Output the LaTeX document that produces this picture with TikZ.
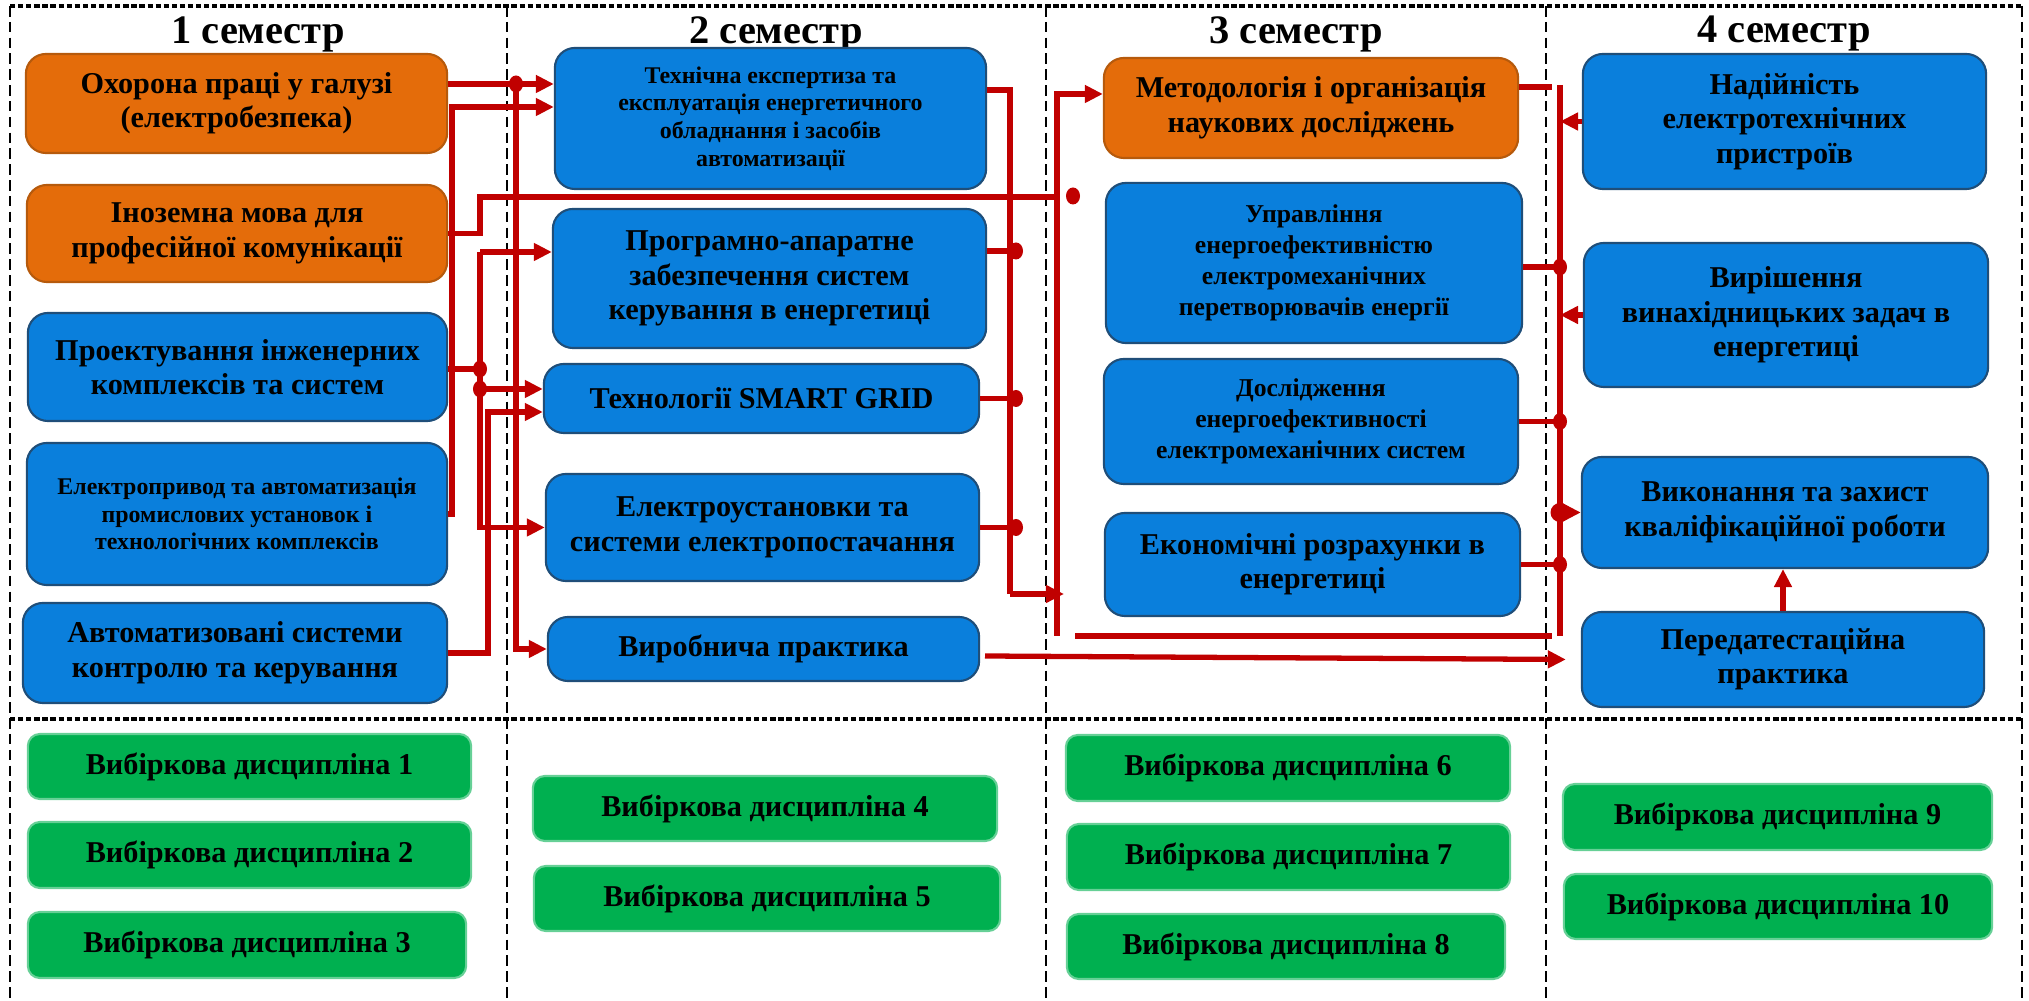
\documentclass[tikz,border=0pt]{standalone}
\usepackage{fontspec}
\setmainfont{Liberation Serif}
\usetikzlibrary{arrows.meta,calc,positioning}
\definecolor{boxorange}{HTML}{E46C0A}
\definecolor{boxorangeline}{HTML}{B65A0C}
\definecolor{boxblue}{HTML}{0A7FDC}
\definecolor{boxblueline}{HTML}{1F4E79}
\definecolor{boxgreen}{HTML}{00B050}
\definecolor{linkred}{HTML}{C00000}
\tikzset{
  box/.style={rounded corners=2mm, line width=0.6pt, align=center, inner sep=1pt,
    font=\bfseries\fontsize{8.6}{9.8}\selectfont},
  orangebox/.style={box, fill=boxorange, draw=boxorangeline},
  bluebox/.style={box, fill=boxblue, draw=boxblueline},
  greenbox/.style={box, rounded corners=1.2mm, fill=boxgreen, draw=boxgreen!60!white},
  smalltext/.style={font=\bfseries\fontsize{6.8}{7.9}\selectfont},
  midtext/.style={font=\bfseries\fontsize{7.3}{8.8}\selectfont},
  link/.style={linkred, line width=1.5pt},
  arrowlink/.style={link, -{Triangle[length=1.8mm,width=1.7mm]}},
  framethin/.style={dash pattern=on 3pt off 1.5pt, line width=0.5pt},
  framethick/.style={dash pattern=on 1.5pt off 0.8pt, line width=0.9pt},
  semester/.style={font=\bfseries\fontsize{11.5}{13}\selectfont},
  joint/.style={x radius=0.07cm, y radius=0.085cm},
}

\begin{document}
\begin{tikzpicture}[x=0.01cm,y=-0.01cm]
\useasboundingbox (0,0) rectangle (2029,1001);

% Drawing frame and semester columns
\draw[framethin] (10,6) -- (10,1001);%
\draw[framethin] (2022,6) -- (2022,1001);%
\foreach \xd in {507,1046,1546}
  \draw[framethin] (\xd,6) -- (\xd,1001);%
\draw[framethick] (10,6) -- (2022,6);%
\draw[framethick] (10,719) -- (2022,719);%

% Marking semester titles
\node[semester] (sem1) at (258,34) {1 семестр};%
\node[semester] (sem2) at (776,34) {2 семестр};%
\node[semester] (sem3) at (1296,34) {3 семестр};%
\node[semester] (sem4) at (1784,34) {4 семестр};%

% Drawing boxes of semester 1
\node[orangebox, minimum width=4.21cm, minimum height=0.99cm] (ohorona) at (236.5,103.5) {Охорона праці у галузі\\(електробезпека)};%
\node[orangebox, minimum width=4.20cm, minimum height=0.97cm] (inozemna) at (237,233.5) {Іноземна мова для\\професійної комунікації};%
\node[bluebox, minimum width=4.19cm, minimum height=1.08cm] (proekt) at (237.5,367) {Проектування інженерних\\комплексів та систем};%
\node[bluebox, smalltext, minimum width=4.20cm, minimum height=1.42cm] (elpryvod) at (237,514) {Електропривод та автоматизація\\промислових установок і\\технологічних комплексів};%
\node[bluebox, minimum width=4.24cm, minimum height=1.00cm] (avtomat) at (235,653) {Автоматизовані системи\\контролю та керування};%

% Drawing boxes of semester 2
\node[bluebox, smalltext, minimum width=4.31cm, minimum height=1.41cm] (tehexp) at (770.5,118.5) {Технічна експертиза та\\експлуатація енергетичного\\обладнання і засобів\\автоматизації};%
\node[bluebox, minimum width=4.33cm, minimum height=1.39cm] (prohram) at (769.5,278.5) {Програмно-апаратне\\забезпечення систем\\керування в енергетиці};%
\node[bluebox, minimum width=4.35cm, minimum height=0.69cm] (smart) at (761.5,398.5) {Технології SMART GRID};%
\node[bluebox, minimum width=4.33cm, minimum height=1.07cm] (elustan) at (762.5,527.5) {Електроустановки та\\системи електропостачання};%
\node[bluebox, minimum width=4.31cm, minimum height=0.64cm] (vyrob) at (763.5,649) {Виробнича практика};%

% Drawing boxes of semester 3
\node[orangebox, minimum width=4.14cm, minimum height=1.00cm] (metod) at (1311,108) {Методологія і організація\\наукових досліджень};%
\node[bluebox, midtext, minimum width=4.16cm, minimum height=1.60cm] (upravl) at (1314,263) {Управління\\енергоефективністю\\електромеханічних\\перетворювачів енергії};%
\node[bluebox, midtext, minimum width=4.14cm, minimum height=1.25cm] (doslid) at (1311,421.5) {Дослідження\\енергоефективності\\електромеханічних систем};%
\node[bluebox, minimum width=4.15cm, minimum height=1.03cm] (ekonom) at (1312.5,564.5) {Економічні розрахунки в\\енергетиці};%

% Drawing boxes of semester 4
\node[bluebox, minimum width=4.03cm, minimum height=1.35cm] (nadiyn) at (1784.5,121.5) {Надійність\\електротехнічних\\пристроїв};%
\node[bluebox, minimum width=4.04cm, minimum height=1.44cm] (vyrish) at (1786,315) {Вирішення\\винахідницьких задач в\\енергетиці};%
\node[bluebox, minimum width=4.06cm, minimum height=1.11cm] (vykon) at (1785,512.5) {Виконання та захист\\кваліфікаційної роботи};%
\node[bluebox, minimum width=4.02cm, minimum height=0.95cm] (peredat) at (1783,659.5) {Передатестаційна\\практика};%

% Drawing elective boxes
\node[greenbox, minimum width=4.43cm, minimum height=0.65cm] (vd1) at (249.5,766.5) {Вибіркова дисципліна 1};%
\node[greenbox, minimum width=4.43cm, minimum height=0.66cm] (vd2) at (249.5,855) {Вибіркова дисципліна 2};%
\node[greenbox, minimum width=4.38cm, minimum height=0.66cm] (vd3) at (247,945) {Вибіркова дисципліна 3};%
\node[greenbox, minimum width=4.64cm, minimum height=0.65cm] (vd4) at (765,808.5) {Вибіркова дисципліна 4};%
\node[greenbox, minimum width=4.66cm, minimum height=0.65cm] (vd5) at (767,898.5) {Вибіркова дисципліна 5};%
\node[greenbox, minimum width=4.44cm, minimum height=0.66cm] (vd6) at (1288,768) {Вибіркова дисципліна 6};%
\node[greenbox, minimum width=4.43cm, minimum height=0.66cm] (vd7) at (1288.5,857) {Вибіркова дисципліна 7};%
\node[greenbox, minimum width=4.38cm, minimum height=0.65cm] (vd8) at (1286,946.5) {Вибіркова дисципліна 8};%
\node[greenbox, minimum width=4.29cm, minimum height=0.66cm] (vd9) at (1777.5,817) {Вибіркова дисципліна 9};%
\node[greenbox, minimum width=4.28cm, minimum height=0.65cm] (vd10) at (1778,906.5) {Вибіркова дисципліна 10};%

% Marking junctions of the lines
\coordinate (jOhorona) at (516,84);%
\coordinate (jElpryvod) at (452,107);%
\coordinate (jInozemna) at (480,197);%
\coordinate (jInozTrunk) at (1057,197);%
\coordinate (dInozemna) at (1073,196);%
\coordinate (jProekt) at (480,369);%
\coordinate (jProhram) at (480,252);%
\coordinate (jSmart) at (480,389);%
\coordinate (jAvtomat) at (488,412);%
\coordinate (jTehexp) at (1010,90);%
\coordinate (jTrunkF) at (1010,594);%
\coordinate (jTrunkFEnd) at (1064,594);%
\coordinate (dProhram) at (1016,251);%
\coordinate (dSmart) at (1016,398.5);%
\coordinate (dElustan) at (1016,527.5);%
\coordinate (jMetod) at (1057,94);%
\coordinate (jTrunkG) at (1057,636);%
\coordinate (jLineL) at (1075,636);%
\coordinate (jLineR) at (1552,636);%
\coordinate (jTrunkKtop) at (1560,85);%
\coordinate (jTrunkKbot) at (1560,636);%
\coordinate (jMetodEnd) at (1552,87);%
\coordinate (dUpravl) at (1560,267);%
\coordinate (dVykon) at (1560,512.5);%
\coordinate (jVyrob) at (985,656);%

% Drawing lines from semester 1
\draw[arrowlink] (ohorona.east |- jOhorona) -- (tehexp.west |- jOhorona);%
\draw[arrowlink] (jOhorona) |- (vyrob.west);%
\draw[arrowlink] (elpryvod.east) -| (jElpryvod) -- (tehexp.west |- jElpryvod);%
\draw[link] (inozemna.east) -| (jInozemna) -- (jInozTrunk);%
\draw[link] (proekt.east |- jProekt) -- (jProekt);%
\draw[arrowlink] (jProhram) -- (prohram.west |- jProhram);%
\draw[arrowlink] (jProhram) |- (elustan.west);%
\draw[arrowlink] (jSmart) -- (smart.west |- jSmart);%
\draw[arrowlink] (avtomat.east) -| (jAvtomat) -- (smart.west |- jAvtomat);%

% Drawing lines from semester 2
\draw[link] (tehexp.east |- jTehexp) -- (jTehexp) -- (jTrunkF);%
\draw[arrowlink] (jTrunkF) -- (jTrunkFEnd);%
\draw[link] (prohram.east |- dProhram) -- (dProhram);%
\draw[link] (smart.east) -- (dSmart);%
\draw[link] (elustan.east) -- (dElustan);%
\draw[arrowlink] (jTrunkG) -- (jMetod) -- (metod.west |- jMetod);%
\draw[link] (jLineL) -- (jLineR);%
\draw[arrowlink] (jVyrob) -- ([xshift=-1.5mm]peredat.west);%

% Drawing lines of semesters 3 and 4
\draw[link] (jTrunkKtop) -- (jTrunkKbot);%
\draw[link] (metod.east |- jMetodEnd) -- (jMetodEnd);%
\draw[arrowlink] (nadiyn.west) -- (nadiyn.west -| jTrunkKtop);%
\draw[arrowlink] (vyrish.west) -- (vyrish.west -| jTrunkKtop);%
\draw[link] (upravl.east |- dUpravl) -- (dUpravl);%
\draw[link] (doslid.east) -- (doslid.east -| jTrunkKtop);%
\draw[link] (ekonom.east) -- (ekonom.east -| jTrunkKtop);%
\draw[arrowlink] (dVykon) -- (vykon.west);%
\draw[arrowlink] (peredat.north) -- (peredat.north |- vykon.south);%

% Marking junctions by dots
\fill[linkred] (jOhorona) ellipse[joint];%
\fill[linkred] (jProekt) ellipse[joint];%
\fill[linkred] (jSmart) ellipse[joint];%
\fill[linkred] (dInozemna) ellipse[joint];%
\fill[linkred] (dProhram) ellipse[joint];%
\fill[linkred] (dSmart) ellipse[joint];%
\fill[linkred] (dElustan) ellipse[joint];%
\fill[linkred] (dUpravl) ellipse[joint];%
\fill[linkred] (doslid.east -| jTrunkKtop) ellipse[joint];%
\fill[linkred] (ekonom.east -| jTrunkKtop) ellipse[joint];%
\fill[linkred] (dVykon) circle (0.095cm);%
\end{tikzpicture}
\end{document}
